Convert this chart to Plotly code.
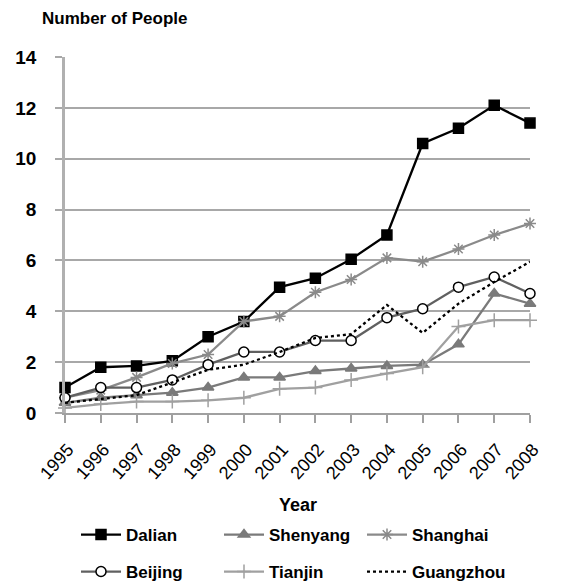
import plotly.graph_objects as go

years = list(range(1995, 2009))
dalian = [1.0, 1.8, 1.85, 2.05, 3.0, 3.6, 4.95, 5.3, 6.05, 7.0, 10.6, 11.2, 12.1, 11.4]
shenyang = [0.4, 0.6, 0.7, 0.8, 1.0, 1.4, 1.4, 1.65, 1.75, 1.85, 1.9, 2.7, 4.7, 4.3]
shanghai = [0.6, 0.9, 1.4, 1.95, 2.3, 3.6, 3.8, 4.75, 5.25, 6.1, 5.95, 6.45, 7.0, 7.45]
beijing = [0.6, 1.0, 1.0, 1.3, 1.9, 2.4, 2.4, 2.85, 2.85, 3.75, 4.1, 4.95, 5.35, 4.7]
tianjin = [0.2, 0.35, 0.45, 0.45, 0.5, 0.6, 0.95, 1.0, 1.3, 1.55, 1.8, 3.4, 3.65, 3.65]
guangzhou = [0.4, 0.55, 0.7, 1.2, 1.7, 1.9, 2.4, 2.95, 3.1, 4.25, 3.15, 4.3, 5.15, 5.95]
y_ticks = [0, 2, 4, 6, 8, 10, 12, 14]

# the page body adds an 8px offset; figure coordinates = reference - 8
W, H = 556, 578
L, T = 57, 49
pw, ph = 465, 356
R, B = W - L - pw, H - T - ph

fig = go.Figure()

def add(name, vals, color, symbol, size, mcolor, mline, dash="solid", legend="legend", width=2.3):
    fig.add_trace(go.Scatter(
        x=years, y=vals, name=name, mode="lines+markers",
        line=dict(color=color, width=width, dash=dash),
        marker=dict(symbol=symbol, size=size, color=mcolor,
                    line=dict(color=mline, width=1.5)),
        cliponaxis=False, legend=legend))

add("Dalian", dalian, "#000000", "square", 10, "#000000", "#000000")
add("Shenyang", shenyang, "#7a7a7a", "triangle-up", 10, "#7a7a7a", "#7a7a7a")
add("Shanghai", shanghai, "#8a8a8a", "asterisk-open", 10, "#8a8a8a", "#8a8a8a")
add("Beijing", beijing, "#606060", "circle", 10, "#ffffff", "#000000", legend="legend2")
add("Tianjin", tianjin, "#a0a0a0", "cross-thin-open", 10, "#a0a0a0", "#a0a0a0", legend="legend2")
fig.add_trace(go.Scatter(
    x=years, y=guangzhou, name="Guangzhou", mode="lines",
    line=dict(color="#000000", width=2.3, dash="dot"),
    cliponaxis=False, legend="legend2"))

leg_common = dict(
    orientation="h", xref="container", yref="container",
    xanchor="left", yanchor="top",
    entrywidth=88, entrywidthmode="pixels",
    font=dict(size=17, color="#000000", weight="bold"), itemwidth=40,
    bgcolor="rgba(0,0,0,0)",
)

fig.update_layout(
    width=W, height=H,
    margin=dict(l=L, r=R, t=T, b=B, autoexpand=False),
    paper_bgcolor="white", plot_bgcolor="white",
    showlegend=True,
    font=dict(family="Liberation Sans, Arial, sans-serif", color="#000000"),
    xaxis=dict(
        range=[1995, 2008], tickmode="array", tickvals=years,
        ticktext=[str(y) for y in years], tickangle=-48,
        showgrid=False, zeroline=False, automargin=False,
        showline=True, linecolor="#a0a0a0", linewidth=2,
        ticks="outside", ticklen=8, tickcolor="#a0a0a0", tickwidth=1.5,
        ticklabelstandoff=9, ticklabelshift=3,
        tickfont=dict(size=18, color="#000000"),
    ),
    yaxis=dict(
        range=[0, 14], tickmode="array", tickvals=y_ticks,
        showgrid=True, gridcolor="#a8a8a8", gridwidth=2,
        zeroline=False, automargin=False,
        showline=True, linecolor="#b0b0b0", linewidth=2.5,
        ticks="outside", ticklen=7, tickcolor="#a8a8a8", tickwidth=2,
        ticklabelstandoff=15,
        tickfont=dict(size=19, color="#000000", weight="bold"),
    ),
    legend=dict(leg_common, x=68 / W, y=1 - 509 / H),
    legend2=dict(leg_common, x=68 / W, y=1 - 546 / H),
    annotations=[
        dict(text="<b>Number of People</b>", xref="paper", yref="paper",
             x=(32 - L) / pw, y=1 + (T - 10) / ph, xanchor="left", yanchor="middle",
             showarrow=False, font=dict(size=17, color="#000000")),
        dict(text="<b>Year</b>", xref="paper", yref="paper",
             x=0.5, y=-(497 - (T + ph)) / ph, xanchor="center", yanchor="middle",
             showarrow=False, font=dict(size=18, color="#000000")),
    ],
)

fig.write_html("out.html")
